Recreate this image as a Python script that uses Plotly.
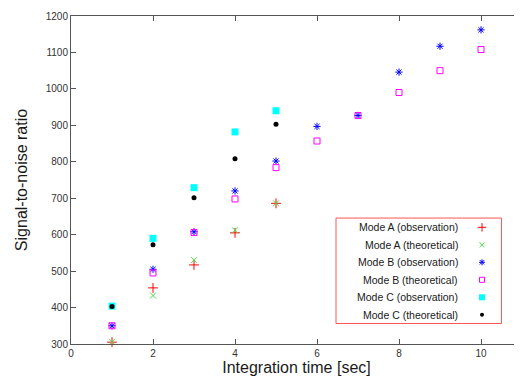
import plotly.graph_objects as go

# ---- data ----
t_a = [1, 2, 3, 4, 5]
mode_a_obs = [305, 454, 517, 605, 686]
mode_a_theo = [306, 433, 530, 612, 686]
t_b = [1, 2, 3, 4, 5, 6, 7, 8, 9, 10]
mode_b_obs = [350, 505, 608, 720, 802, 897, 927, 1046, 1117, 1162]
mode_b_theo = [350, 495, 606, 698, 784, 857, 927, 990, 1050, 1108]
t_c = [1, 2, 3, 4, 5]
mode_c_obs = [404, 590, 729, 882, 940]
mode_c_theo = [403, 572, 701, 808, 903]

names = ["Mode A (observation)", "Mode A (theoretical)", "Mode B (observation)",
         "Mode B (theoretical)", "Mode C (observation)", "Mode C (theoretical)"]
x_ticks = [0, 2, 4, 6, 8, 10]
y_ticks = [300, 400, 500, 600, 700, 800, 900, 1000, 1100, 1200]

styles = [
    dict(symbol="cross-thin", color="#ff0000", size=7, line=dict(color="#ff0000", width=1)),
    dict(symbol="x-thin", color="#44dd44", size=6, line=dict(color="#44dd44", width=1)),
    dict(symbol="asterisk", color="#0000ff", size=6, line=dict(color="#0000ff", width=1)),
    dict(symbol="square-open", color="#ff00ff", size=6, line=dict(color="#ff00ff", width=1)),
    dict(symbol="square", color="#00ffff", size=7, line=dict(width=0)),
    dict(symbol="circle", color="#000000", size=5, line=dict(width=0)),
]

series = [(t_a, mode_a_obs), (t_a, mode_a_theo), (t_b, mode_b_obs),
          (t_b, mode_b_theo), (t_c, mode_c_obs), (t_c, mode_c_theo)]

fig = go.Figure()
for (xs, ys), nm, st in zip(series, names, styles):
    fig.add_trace(go.Scatter(x=xs, y=ys, mode="markers", name=nm, marker=st,
                             showlegend=False, cliponaxis=False))

# ---- custom legend (text left, symbol right) ----
box_x0, box_x1, box_y0, box_y1 = 0.5876, 0.9545, 0.0625, 0.384
row_top, row_step = 0.3558, 0.05335
text_x, mark_x = 0.8625, 0.9113
fig.add_shape(type="rect", xref="paper", yref="paper", x0=box_x0, x1=box_x1,
              y0=box_y0, y1=box_y1, line=dict(color="#ff5555", width=1),
              fillcolor="white", layer="below")
leg_y = [row_top - i * row_step for i in range(len(names))]
for nm, yy, st in zip(names, leg_y, styles):
    fig.add_annotation(x=text_x, y=yy, xref="paper", yref="paper", text=nm,
                       showarrow=False, xanchor="right", yanchor="middle",
                       font=dict(size=10.5, color="#1a1a1a", family="Liberation Sans, Arial"))
    leg_st = dict(st)
    leg_st["size"] = max(st["size"] - 1, 4)
    fig.add_trace(go.Scatter(x=[mark_x], y=[yy], xaxis="x2", yaxis="y2", mode="markers",
                             marker=leg_st, showlegend=False, hoverinfo="skip"))

tick_font = dict(size=10, color="#333333", family="Liberation Sans, Arial")
title_font = dict(size=16, color="#1a1a1a", family="Liberation Sans, Arial")
# page body has an 8px margin, so the canvas is sized/offset to compensate
fig.update_layout(
    width=514, height=370,
    margin=dict(l=63, r=0, t=8, b=34),
    paper_bgcolor="white", plot_bgcolor="white",
    xaxis=dict(range=[0, 11], tickvals=x_ticks, showline=True, linecolor="#555555",
               linewidth=1, mirror="ticks", ticks="inside", ticklen=5, tickcolor="#555555",
               showgrid=False, zeroline=False, automargin=False, tickfont=tick_font,
               title=dict(text="Integration time [sec]", standoff=2, font=title_font)),
    yaxis=dict(range=[300, 1200], tickvals=y_ticks, showline=True, linecolor="#555555",
               linewidth=1, mirror=False, ticks="inside", ticklen=5, tickcolor="#555555",
               showgrid=False, zeroline=False, automargin=False, tickfont=tick_font,
               title=dict(text="Signal-to-noise ratio", standoff=14, font=title_font)),
    yaxis3=dict(overlaying="y", side="right", matches="y", tickvals=y_ticks,
                ticks="inside", ticklen=5, tickcolor="#555555", showline=False,
                showticklabels=False, showgrid=False, zeroline=False),
    xaxis2=dict(overlaying="x", range=[0, 1], visible=False),
    yaxis2=dict(overlaying="y", range=[0, 1], visible=False),
    showlegend=False,
)
# invisible trace to activate the right-hand tick axis
fig.add_trace(go.Scatter(x=[None], y=[None], yaxis="y3", showlegend=False, hoverinfo="skip"))

fig.write_html("out.html")
